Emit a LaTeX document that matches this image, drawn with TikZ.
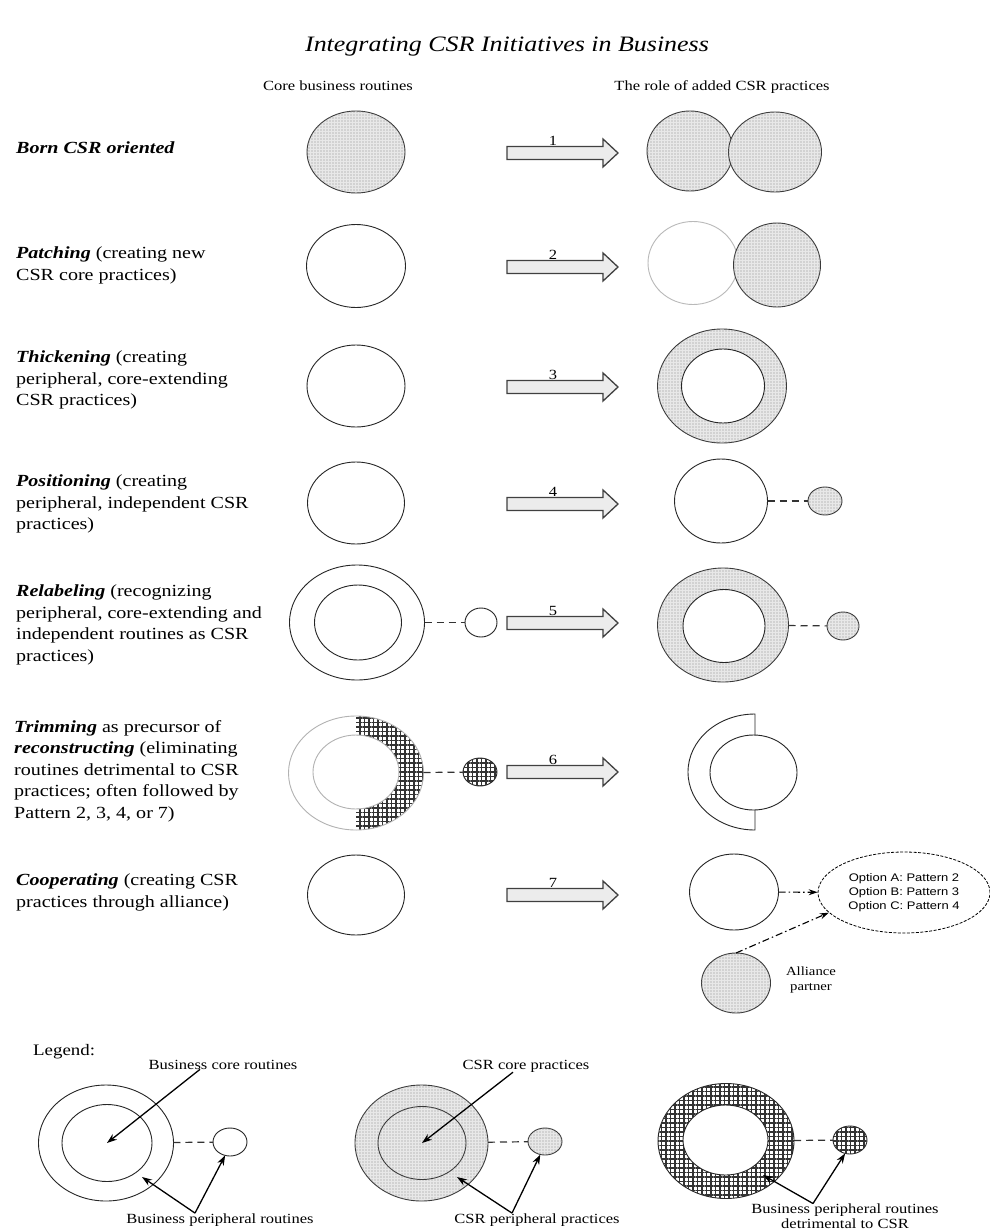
\documentclass[tikz,border=0pt]{standalone}
\usepackage{fontspec}
\setmainfont{Liberation Serif}[FakeStretch=1.18]
\newfontfamily\optionfont{Liberation Sans}[FakeStretch=1.18]
\usetikzlibrary{positioning}
\usetikzlibrary{shapes.geometric}
\usetikzlibrary{patterns}
\usetikzlibrary{patterns.meta}
\usetikzlibrary{arrows.meta}

\tikzset{
  wh/.style 2 args={minimum width=#1pt, minimum height=#2pt},
  routine/.style={ellipse, draw=black!85, line width=0.9pt, fill=white, inner sep=0pt, outer sep=0pt},
  dotfill/.style={postaction={pattern={Dots[radius=0.55pt, distance=3pt]}, pattern color=gray!90}},
  gridfill/.style={postaction={pattern={Hatch[angle=0, distance=4.5pt, line width=1.3pt]}, pattern color=black!80}},
  csr/.style={routine, draw=gray!45!black, fill=gray!18, dotfill},
  detr/.style={routine, fill=white, gridfill},
  link/.style={dash pattern=on 7pt off 5pt, line width=1.2pt, black!80},
  pointer/.style={-{Stealth[length=10pt,width=7pt]}, line width=1.3pt},
  dashdot/.style={dash pattern=on 7pt off 3pt on 1.5pt off 3pt, line width=1.1pt, -{Stealth[length=9pt,width=6pt]}},
  rowtext/.style={anchor=north west, yshift=15.05pt, align=left, inner sep=0pt,
    font=\fontsize{17}{21.5}\selectfont, execute at begin node=\strut},
  head/.style={anchor=base, inner sep=0pt, font=\fontsize{14}{17}\selectfont},
  steplabel/.style={anchor=base, inner sep=0pt, font=\fontsize{14}{17}\selectfont},
  legendtext/.style={anchor=base, inner sep=0pt, align=center, font=\fontsize{14}{17}\selectfont},
  legendlines/.style={anchor=north, yshift=10.5pt, inner sep=0pt, align=center,
    font=\fontsize{14}{15}\selectfont, execute at begin node=\strut},
  pics/blockarrow/.style={code={
    \draw[fill=gray!15, draw=gray!50!black, line width=1.3pt]
      (0,-6.5) -- (96,-6.5) -- (96,-14) -- (111,0) -- (96,14) -- (96,6.5) -- (0,6.5) -- cycle;
  }}
}

\begin{document}
\begin{tikzpicture}[x=1pt, y=-1pt]

\fill[white] (0,0) rectangle (990,1231);
\useasboundingbox (0,0) rectangle (990,1231);

% headings
\node[anchor=base, inner sep=0pt, font=\fontsize{22}{26}\selectfont\itshape] (title) at (507,52) {Integrating CSR Initiatives in Business};
\node[head] (colA) at (338,90) {Core business routines};
\node[head] (colB) at (722,90) {The role of added CSR practices};

% row texts
\node[rowtext] (lab1) at (16,153) {\textbf{\textit{Born CSR oriented}}};
\node[rowtext] (lab2) at (16,262) {\textbf{\textit{Patching}} (creating new\\CSR core practices)};
\node[rowtext] (lab3) at (16,366) {\textbf{\textit{Thickening}} (creating\\peripheral, core-extending\\CSR practices)};
\node[rowtext] (lab4) at (16,490) {\textbf{\textit{Positioning}} (creating\\peripheral, independent CSR\\practices)};
\node[rowtext] (lab5) at (16,600) {\textbf{\textit{Relabeling}} (recognizing\\peripheral, core-extending and\\independent routines as CSR\\practices)};
\node[rowtext] (lab6) at (14,735) {\textbf{\textit{Trimming}} as precursor of\\\textbf{\textit{reconstructing}} (eliminating\\routines detrimental to CSR\\practices; often followed by\\Pattern 2, 3, 4, or 7)};
\node[rowtext] (lab7) at (16,889) {\textbf{\textit{Cooperating}} (creating CSR\\practices through alliance)};

% block arrows
\foreach \y [count=\i] in {153,267,387,504,623,772,895}
{
  \pic at (507,\y) {blockarrow};
  \node[steplabel] (num\i) at (553,\y-8) {\i};
}

% core business routines
\node[csr, wh={98}{82}] (f1) at (356,152) {};
\node[routine, wh={99}{83}] (f2) at (356,266) {};
\node[routine, wh={98}{82}] (f3) at (356,386) {};
\node[routine, wh={97}{82}] (f4) at (356,503) {};

\node[routine, wh={135}{115}] (l1) at (357,622.5) {};
\node[routine, wh={87}{75}] (l2) at (358,622.5) {};
\node[routine, wh={32}{29}] (l3) at (481,622.5) {};
\draw[link] (l1) -- (l3);

\fill[white, gridfill]
  (356,716) arc[start angle=-90, end angle=90, x radius=67.5, y radius=57]
  -- (356,809) arc[start angle=90, end angle=-90, x radius=43, y radius=37] -- cycle;
\node[ellipse, draw=gray!60, line width=0.9pt, inner sep=0pt, outer sep=0pt, wh={135}{114}] (m1) at (356,773) {};
\node[ellipse, draw=gray!60, line width=0.9pt, inner sep=0pt, outer sep=0pt, wh={86}{74}] (m2) at (356,772) {};
\node[detr, wh={34}{28}] (m3) at (480,772) {};
\draw[link] (m1) -- (m3);

\node[routine, wh={97}{80}] (f7) at (356,895) {};

% added CSR practices
\node[csr, wh={86}{80}] (b1) at (690,151) {};
\node[csr, wh={93}{80}] (b2) at (775,152) {};

\node[routine, draw=gray!55, wh={90}{83}] (p1) at (693,263) {};
\node[csr, wh={87}{84}] (p2) at (777,265) {};

\node[csr, wh={129}{114}] (t1) at (722,386) {};
\node[routine, wh={83}{74}] (t2) at (723,386) {};

\node[routine, wh={93}{84}] (q1) at (721,501) {};
\node[csr, wh={34}{28}] (q2) at (825,501) {};
\draw[link] (q1) -- (q2);

\node[csr, wh={131}{114}] (r1) at (723,625) {};
\node[routine, wh={82}{73}] (r2) at (724,626) {};
\node[csr, wh={32}{28}] (r3) at (843,626) {};
\draw[link] (r1) -- (r3);

\draw[black!85, line width=0.9pt] (755,735) -- (755,714)
  arc[start angle=270, end angle=90, x radius=67, y radius=58] -- (755,810);
\node[routine, wh={87}{75}] (s1) at (753.5,772.5) {};

\node[routine, wh={89}{76}] (o1) at (734,892) {};
\node[ellipse, draw, dash pattern=on 3pt off 1.5pt, line width=0.8pt, inner sep=0pt, wh={172}{81},
      align=center, font=\optionfont\fontsize{11}{14}\selectfont] (opt) at (904,892.5)
  {Option A: Pattern 2\\Option B: Pattern 3\\Option C: Pattern 4};
\node[csr, wh={69}{60}] (ally) at (736,983) {};
\node[anchor=north, yshift=10.5pt, align=center, inner sep=0pt, font=\fontsize{12.5}{15}\selectfont,
      execute at begin node=\strut] (allylab) at (811,977) {Alliance\\partner};
\draw[dashdot] (o1) -- (opt);
\draw[dashdot] (ally.north) -- (opt.195);

% legend
\node[rowtext, font=\fontsize{16}{19}\selectfont, yshift=-1.7pt] (leg) at (33,1055) {Legend:};

\node[routine, wh={135}{116}] (g1) at (106,1143) {};
\node[routine, wh={90}{77}] (g2) at (107,1143) {};
\node[routine, wh={34}{28}] (g3) at (230,1142) {};
\draw[link] (g1) -- (g3);
\node[legendtext] (g1lab) at (223,1069) {Business core routines};
\node[legendtext] (g4lab) at (220,1223) {Business peripheral routines};
\coordinate (g1ring) at (142,1177);
\coordinate (g4v) at ([xshift=-25pt]g4lab.north);
\draw[pointer] ([xshift=-23pt]g1lab.south) -- (g2.center);
\draw[pointer] (g4v) -- (g1ring);
\draw[pointer] (g4v) -- (g3.-110);

\node[csr, wh={133}{116}] (h1) at (421.5,1143) {};
\node[csr, wh={88}{73}] (h2) at (422,1143) {};
\node[csr, wh={34}{27}] (h3) at (545,1141.5) {};
\draw[link] (h1) -- (h3);
\node[legendtext] (h1lab) at (526,1069) {CSR core practices};
\node[legendtext] (h4lab) at (537,1223) {CSR peripheral practices};
\coordinate (h1ring) at (457,1177);
\coordinate (h4v) at ([xshift=-25pt]h4lab.north);
\draw[pointer] ([xshift=-13pt]h1lab.south) -- (h2.center);
\draw[pointer] (h4v) -- (h1ring);
\draw[pointer] (h4v) -- (h3.-110);

\node[detr, wh={136}{115}] (k1) at (726,1141) {};
\node[routine, wh={85}{70}] (k2) at (725.5,1140) {};
\node[detr, wh={34}{28}] (k3) at (850,1140) {};
\draw[link] (k1) -- (k3);
\node[legendlines] (k4lab) at (845,1214) {Business peripheral routines\\detrimental to CSR};
\coordinate (k1ring) at (763,1175);
\coordinate (k4v) at ([xshift=-32pt]k4lab.north);
\draw[pointer] (k4v) -- (k1ring);
\draw[pointer] (k4v) -- (k3.-110);

\end{tikzpicture}
\end{document}
